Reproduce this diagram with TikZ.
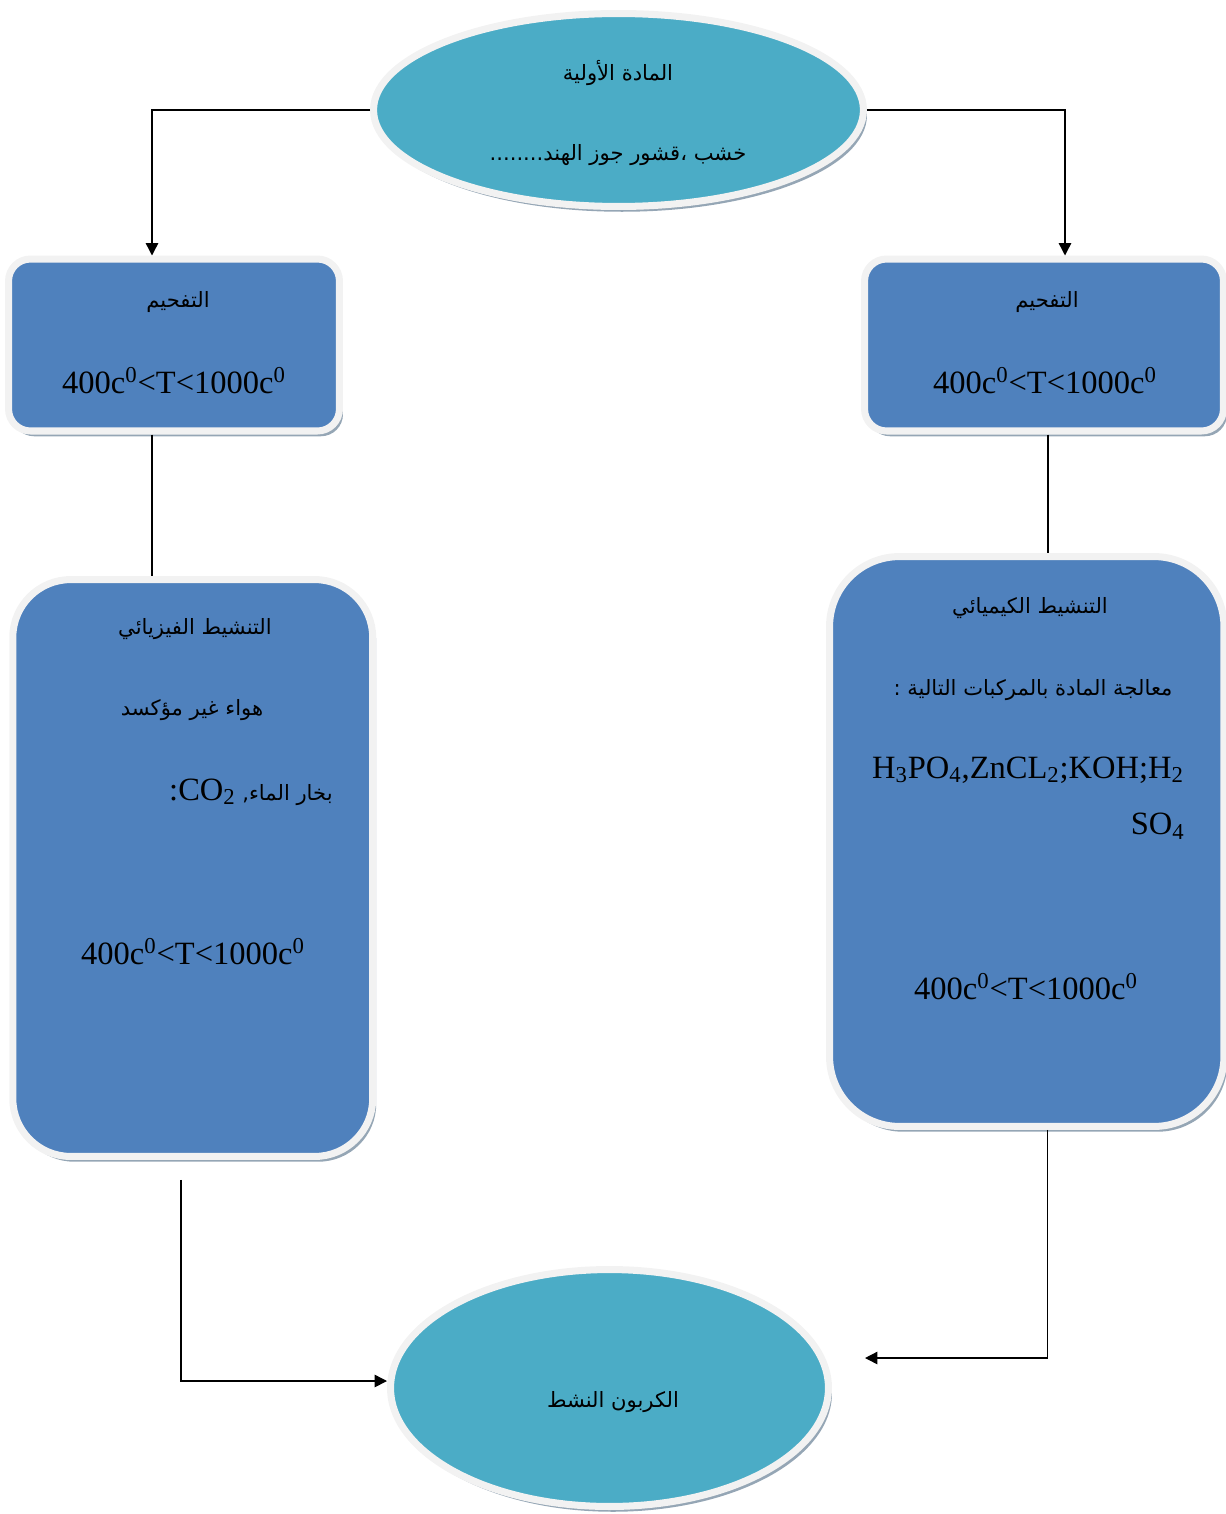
\documentclass[tikz,border=0pt]{standalone}
\usepackage{fontspec}
\setmainfont{Liberation Serif}
\newfontfamily\arabicfont[Script=Arabic]{DejaVu Sans}
\TeXXeTstate=1
\usetikzlibrary{shapes.geometric,shadows,arrows.meta}
\definecolor{ovalteal}{HTML}{4BACC6}
\definecolor{boxblue}{HTML}{4F81BD}
\definecolor{rimgray}{HTML}{F2F2F2}
\definecolor{shadegray}{HTML}{95A6B5}
\newcommand{\rtltext}[1]{\beginR #1\endR}
\newcommand{\temprange}{400c\textsuperscript{0}<T<1000c\textsuperscript{0}}
\begin{document}
\begin{tikzpicture}[x=0.02cm,y=-0.02cm,
    rimmed/.style={fill=#1,draw=rimgray,line width=4pt,
        drop shadow={shadow xshift=2pt,shadow yshift=-3pt,fill=shadegray,opacity=1}},
    ovalbox/.style={ellipse,rimmed=ovalteal},
    procbox/.style={rectangle,rimmed=boxblue},
    flow/.style={line width=0.8pt,-{Triangle[length=7pt,width=7pt]}},
    link/.style={line width=0.8pt},
    arlbl/.style={inner sep=0pt,font=\arabicfont\fontsize{12}{14}\selectfont},
    numlbl/.style={inner sep=0pt,font=\fontsize{18.5}{22}\selectfont}]
    \useasboundingbox (0,0) rectangle (1225,1514);
    \node[ovalbox,minimum width=9.8cm,minimum height=3.86cm] (raw) at (618.5,110) {};
    \node[procbox,rounded corners=0.44cm,minimum width=6.62cm,minimum height=3.44cm] (carbL) at (174,345) {};
    \node[procbox,rounded corners=0.44cm,minimum width=7.18cm,minimum height=3.44cm] (carbR) at (1044,345) {};
    \node[procbox,rounded corners=1.16cm,minimum width=7.2cm,minimum height=11.54cm] (physL) at (192.75,868) {};
    \node[procbox,rounded corners=1.4cm,minimum width=7.89cm,minimum height=11.4cm] (chemR) at (1026.75,841.5) {};
    \node[ovalbox,minimum width=8.76cm,minimum height=4.74cm] (prod) at (609.5,1388) {};
    \coordinate (prodIn) at (865,1358);

    \node[arlbl] (rawA) at (618,73) {\rtltext{المادة الأولية}};
    \node[arlbl] (rawB) at (618,155) {\rtltext{خشب ،قشور جوز الهند\kern0pt........}};
    \node[arlbl] (carbLA) at (178,302) {\rtltext{التفحيم}};
    \node[numlbl] (carbLB) at (174,381) {\temprange};
    \node[arlbl] (carbRA) at (1047,302) {\rtltext{التفحيم}};
    \node[numlbl] (carbRB) at (1045,381) {\temprange};
    \node[arlbl] (physA) at (195,629) {\rtltext{التنشيط الفيزيائي}};
    \node[arlbl] (physB) at (192,710) {\rtltext{هواء غير مؤكسد}};
    \node[arlbl,anchor=east] (physC) at (333,792) {\rtltext{بخار الماء\kern0pt, \beginL{\rmfamily\fontsize{18.5}{22}\selectfont CO\textsubscript{2}}\endL{\rmfamily\fontsize{18.5}{22}\selectfont:}}};
    \node[numlbl] (physD) at (193,952) {\temprange};
    \node[arlbl] (chemA) at (1030,608) {\rtltext{التنشيط الكيميائي}};
    \node[arlbl] (chemB) at (1033,690) {\rtltext{معالجة المادة بالمركبات التالية :}};
    \node[numlbl] (chemC) at (1028,770) {H\textsubscript{3}PO\textsubscript{4},ZnCL\textsubscript{2};KOH;H\textsubscript{2}};
    \node[numlbl,anchor=east] (chemD) at (1185,826) {SO\textsubscript{4}};
    \node[numlbl] (chemE) at (1026,987) {\temprange};
    \node[arlbl] (prodA) at (613,1402) {\rtltext{الكربون النشط}};

    \draw[flow] (raw.west) -| ([xshift=-0.44cm]carbL.north);
    \draw[flow] (raw.east) -| ([xshift=0.42cm]carbR.north);
    \draw[link] ([xshift=-0.44cm]carbL.south) -- ([xshift=-0.44cm]carbL.south |- physL.north);
    \draw[link] ([xshift=0.08cm]carbR.south) -- ([xshift=0.08cm]carbR.south |- chemR.north);
    \draw[flow] ([xshift=-0.235cm,yshift=-0.4cm]physL.south) |- ([yshift=0.14cm]prod.west);
    \draw[flow] ([xshift=0.42cm]chemR.south) |- (prodIn);
\end{tikzpicture}
\end{document}
